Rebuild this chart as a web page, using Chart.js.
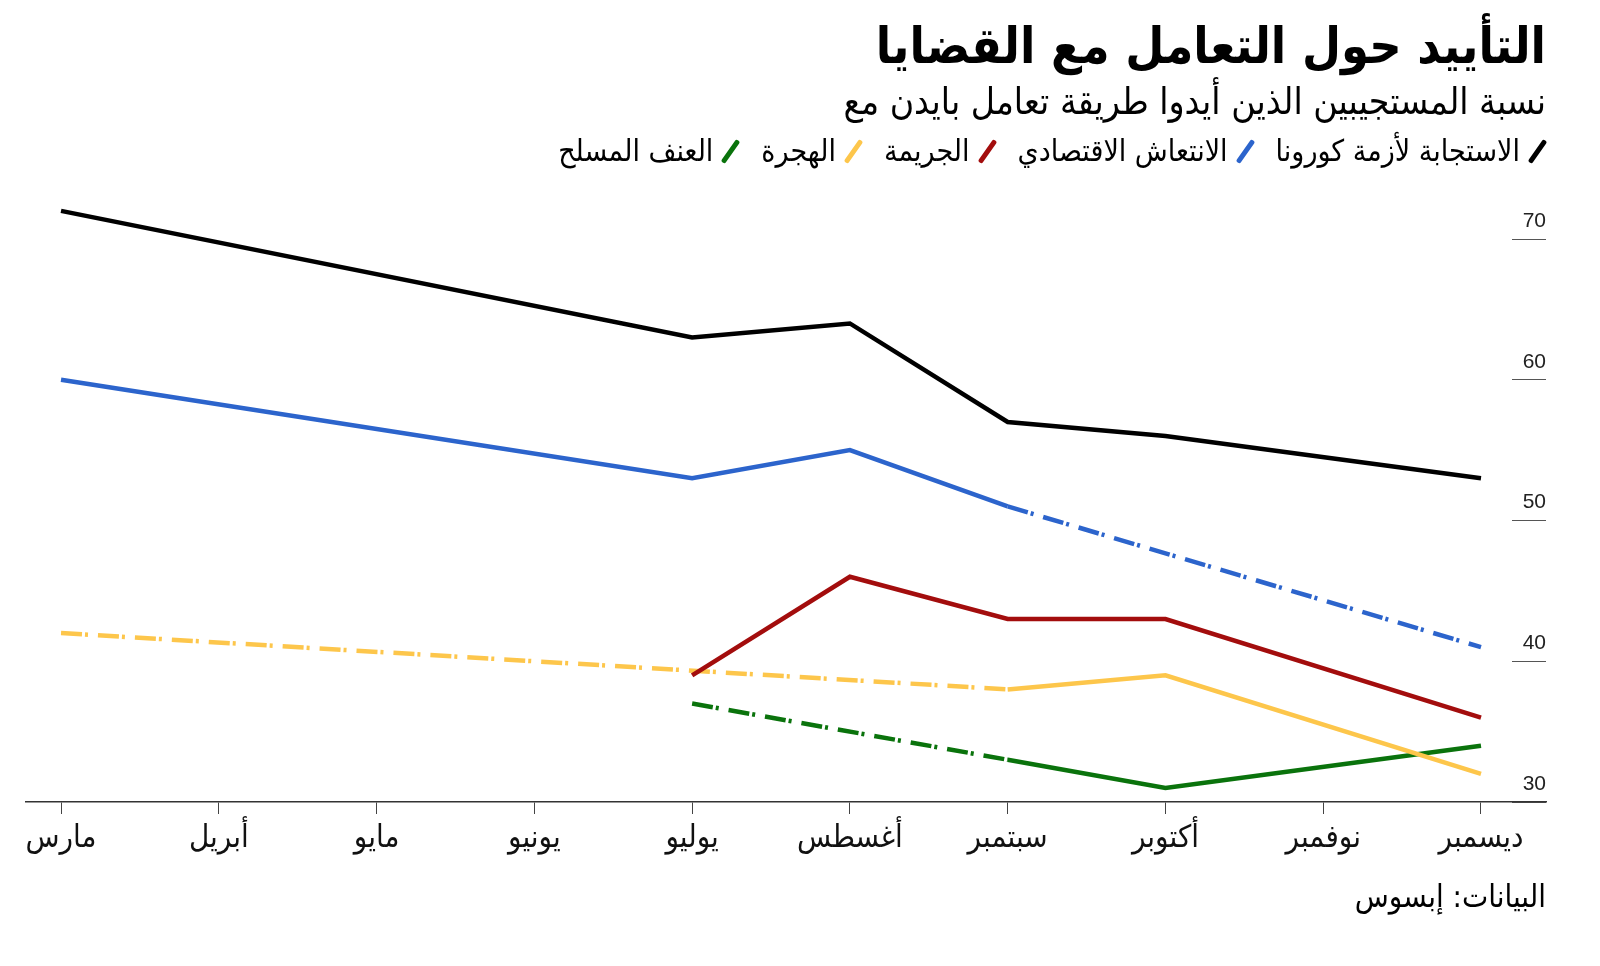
<!DOCTYPE html>
<html lang="ar">
<head>
<meta charset="utf-8">
<script src="https://cdn.jsdelivr.net/npm/chart.js@4"></script>
<style>
    html, body { margin: 0; padding: 0; background: #fff; }
    #wrap { position: relative; width: 1600px; height: 966px; overflow: hidden; }
    #chart { position: absolute; left: 0; top: 0; }
    .txt { position: absolute; right: 54px; direction: rtl; white-space: nowrap;
           font-family: "DejaVu Sans Condensed", "DejaVu Sans", sans-serif; color: #000; }
    #title { top: 14px; font-size: 50px; font-weight: bold; line-height: 64px; }
    #subtitle { top: 78px; font-size: 37px; line-height: 48px; }
    #legend { top: 129px; right: 60px; font-size: 30px; line-height: 44px; }
    #legend span.item { margin-left: 28px; }
    #legend span.mark { display: inline-block; width: 5px; height: 27px; margin-left: 15px;
                        transform: rotate(35deg); vertical-align: -4px; border-radius: 2px; }
    #source { top: 872px; font-size: 31px; line-height: 48px; }
</style>
</head>
<body>
<div id="wrap">
    <canvas id="chart" width="1600" height="966"></canvas>
    <div class="txt" id="title">التأييد حول التعامل مع القضايا</div>
    <div class="txt" id="subtitle">نسبة المستجيبين الذين أيدوا طريقة تعامل بايدن مع</div>
    <div class="txt" id="legend"></div>
    <div class="txt" id="source">البيانات: إبسوس</div>
</div>
<script>
/*
    approval of how issues are handled, march - december
    null = no reading that month, the line is carried across
*/
const months = ['مارس', 'أبريل', 'مايو', 'يونيو', 'يوليو', 'أغسطس', 'سبتمبر', 'أكتوبر', 'نوفمبر', 'ديسمبر'];
const seriesNames = ['الاستجابة لأزمة كورونا', 'الانتعاش الاقتصادي', 'الجريمة', 'الهجرة', 'العنف المسلح'];

const covid       = [72, null, null, null, 63, 64, 57, 56, null, 53];
const economy     = [60, null, null, null, 53, 55, 51, null, null, 41];
const crime       = [null, null, null, null, 39, 46, 43, 43, null, 36];
const immigration = [42, null, null, null, null, null, 38, 39, null, 32];
const gunViolence = [null, null, null, null, 37, null, 33, 31, null, 34];

// stretch of months (first, last index) drawn dash-dot in the original
const dashedSpans = [null, [6, 9], null, [0, 6], [4, 6]];

const yTicks = [30, 40, 50, 60, 70];

const colors = ['#000000', '#2c64cc', '#a30d0d', '#fdc64b', '#0a730c'];
const allSeries = [covid, economy, crime, immigration, gunViolence];

// legend is plain html, right to left like the original
const legendDiv = document.getElementById('legend');
seriesNames.forEach((name, i) => {
    const item = document.createElement('span');
    item.className = 'item';
    const mark = document.createElement('span');
    mark.className = 'mark';
    mark.style.background = colors[i];
    item.appendChild(mark);
    item.appendChild(document.createTextNode(name));
    legendDiv.appendChild(item);
});

function makeDataset(values, i) {
    const span = dashedSpans[i];
    return {
        label: seriesNames[i],
        data: values.map((v, x) => ({ x: x, y: v })),
        borderColor: colors[i],
        borderWidth: 4.5,
        borderJoinStyle: 'miter',
        borderCapStyle: 'butt',
        pointRadius: 0,
        pointHoverRadius: 0,
        spanGaps: true,
        clip: false,
        segment: {
            borderDash: ctx => {
                if (span && ctx.p0DataIndex >= span[0] && ctx.p1DataIndex <= span[1]) {
                    return [21, 3, 3, 10];
                }
                return undefined;
            }
        }
    };
}

const arabicFont = '"DejaVu Sans Condensed", "DejaVu Sans", sans-serif';

const chart = new Chart('chart', {
    type: 'line',
    data: {
        datasets: allSeries.map(makeDataset)
    },
    options: {
        responsive: false,
        animation: false,
        events: [],
        layout: {
            padding: { top: 239, left: 26, right: 54, bottom: 64 }
        },
        plugins: {
            legend: { display: false },
            tooltip: { enabled: false }
        },
        scales: {
            x: {
                type: 'linear',
                position: 'bottom',
                min: -0.222,
                max: 9.412,
                afterBuildTicks: s => { s.ticks = months.map((m, i) => ({ value: i })); },
                afterFit: s => { s.height = 100; },
                border: { display: true, color: '#333', width: 1.5 },
                grid: { drawOnChartArea: false, drawTicks: true, tickLength: 12, tickColor: '#444', tickWidth: 1 },
                ticks: {
                    autoSkip: false,
                    maxRotation: 0,
                    padding: 6,
                    color: '#111',
                    font: { family: arabicFont, size: 31 },
                    callback: v => months[v]
                }
            },
            y: {
                type: 'linear',
                position: 'right',
                min: 30,
                max: 70,
                afterBuildTicks: s => { s.ticks = yTicks.map(v => ({ value: v })); },
                afterFit: s => { s.width = 0; },
                border: { display: false },
                grid: { drawOnChartArea: false, drawTicks: true, tickLength: -34, tickColor: '#555', tickWidth: 1 },
                ticks: {
                    mirror: true,
                    padding: 0,
                    labelOffset: -18,
                    color: '#222',
                    font: { family: '"Liberation Sans", Arial, sans-serif', size: 21 }
                }
            }
        }
    }
});
</script>
</body>
</html>
